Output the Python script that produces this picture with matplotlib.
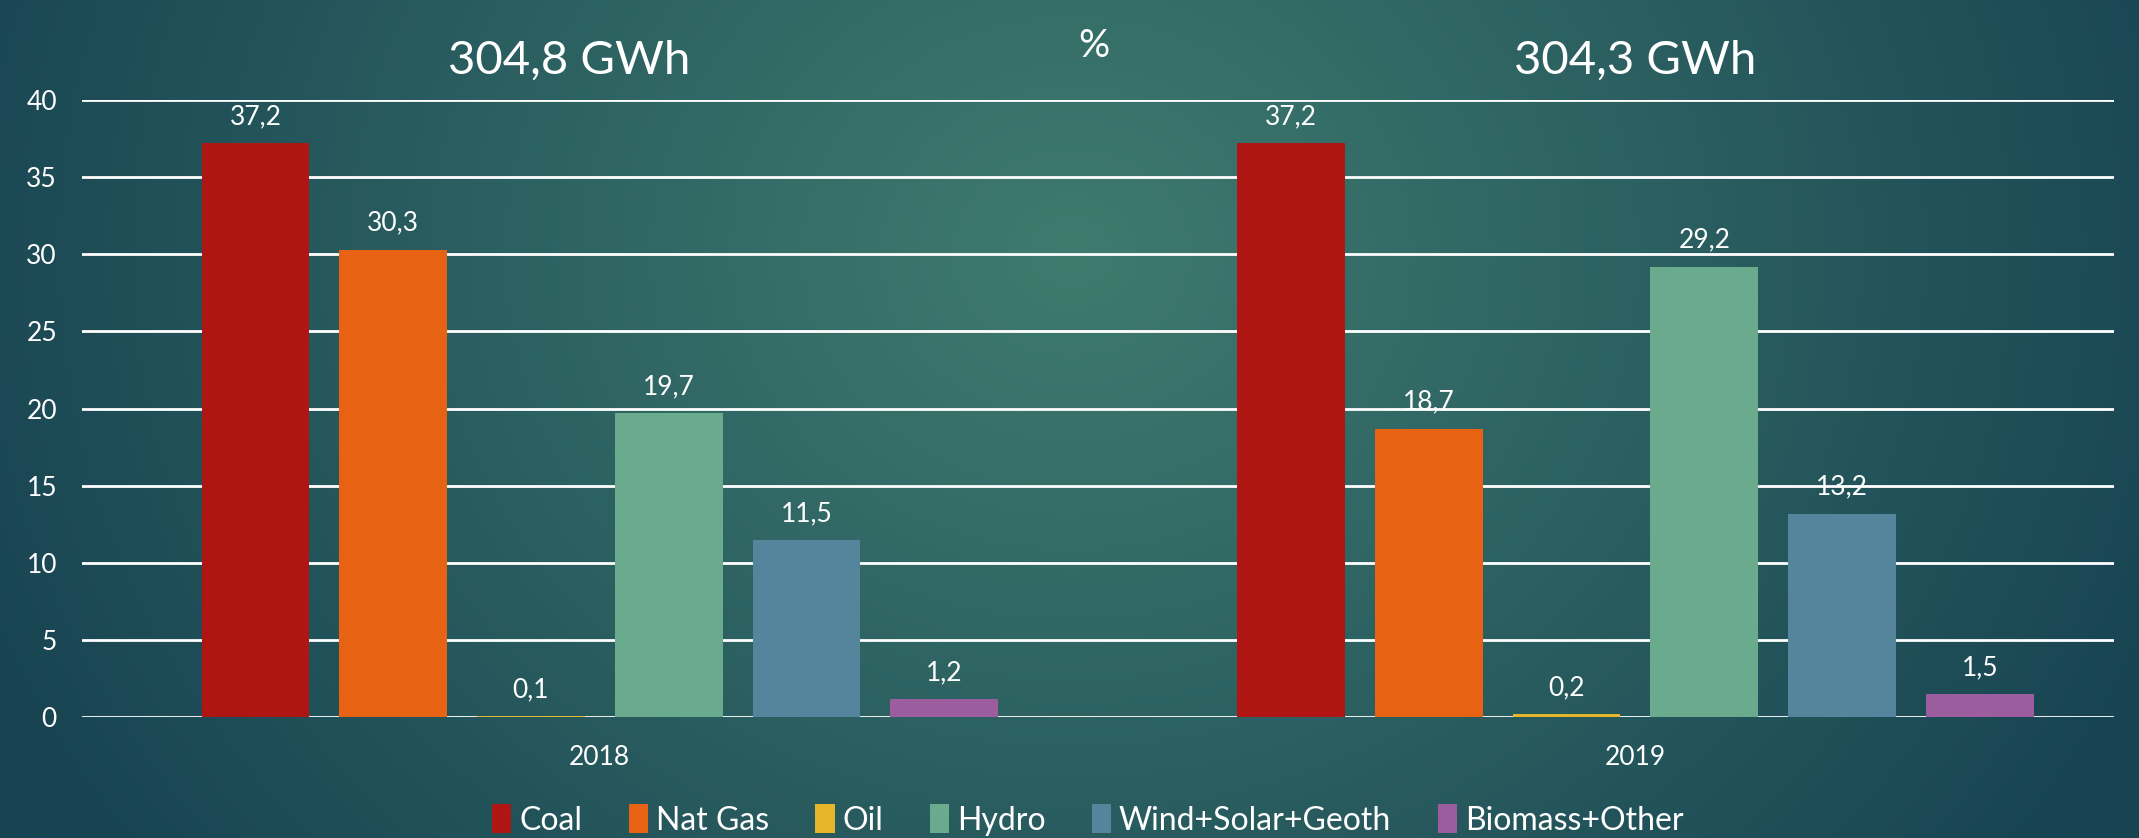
import matplotlib
matplotlib.use("Agg")
import matplotlib.pyplot as plt
import numpy as np

# data
years = ['2018', '2019']
sources = ['Coal', 'Nat Gas', 'Oil', 'Hydro', 'Wind+Solar+Geoth', 'Biomass+Other']
share_2018 = [37.2, 30.3, 0.1, 19.7, 11.5, 1.2]
share_2019 = [37.2, 18.7, 0.2, 29.2, 13.2, 1.5]
totals = ['304,8 GWh', '304,3 GWh']
colors = ['#ae1513', '#e86213', '#e6b62a', '#6aab8e', '#55859c', '#9c5d9e']

plt.rcParams['font.family'] = ['Lato', 'DejaVu Sans']

fig = plt.figure(figsize=(21.39, 8.38), dpi=100)

# background gradient
bg = fig.add_axes([0, 0, 1, 1], zorder=-10)
h, w = 200, 500
yy, xx = np.mgrid[0:h, 0:w]
cx, cy = 0.5 * w, 0.3 * h
d = np.sqrt(((xx - cx) / w) ** 2 + ((yy - cy) / h * 0.45) ** 2)
d = np.clip(d / 0.55, 0, 1)
inner = np.array([63, 123, 111]) / 255
outer = np.array([24, 68, 82]) / 255
img = inner[None, None, :] * (1 - d[..., None]) + outer[None, None, :] * d[..., None]
bg.imshow(img, aspect='auto', extent=[0, 1, 0, 1], interpolation='bilinear')
bg.axis('off')

ax = fig.add_axes([0.0383, 0.1438, 0.95, 0.7372])
ax.set_facecolor('none')

x = np.arange(len(years))
step = 0.133
width = 0.104
all_vals = np.array([share_2018, share_2019])
for i, src in enumerate(sources):
    pos = x + (i - 2.5) * step
    vals = all_vals[:, i]
    bars = ax.bar(pos, vals, width=width, color=colors[i], label=src, zorder=3)
    for b, v in zip(bars, vals):
        ax.annotate('{:.1f}'.format(v).replace('.', ','),
                    (b.get_x() + b.get_width() / 2, v),
                    xytext=(0, 10), textcoords='offset points',
                    ha='center', va='bottom', color='white', fontsize=19)

ax.set_ylim(0, 40)
ax.set_xlim(-0.5, 1.462)
ax.set_yticks(range(0, 41, 5))
ax.yaxis.grid(True, color='white', lw=2, zorder=0)
ax.set_axisbelow(True)
ax.set_xticks(x)
ax.set_xticklabels(years)
ax.tick_params(axis='both', length=0, colors='white', labelsize=19)
ax.tick_params(axis='x', pad=20)
ax.tick_params(axis='y', pad=18)
for s in ax.spines.values():
    s.set_visible(False)

# totals above each group
for xi, t, dx in zip(x, totals, [-0.03, 0.0]):
    ax.text(xi + dx, 42.5, t, ha='center', va='center', color='white', fontsize=34)
ax.text(0.477, 43.5, '%', ha='center', va='center', color='white', fontsize=28)

ax.legend(loc='center', bbox_to_anchor=(0.495, -0.166), ncol=6, frameon=False,
          fontsize=23, handlelength=0.6, handleheight=1.0, handletextpad=0.25,
          columnspacing=1.45, labelcolor='white')

fig.savefig('out.png', dpi=100)
